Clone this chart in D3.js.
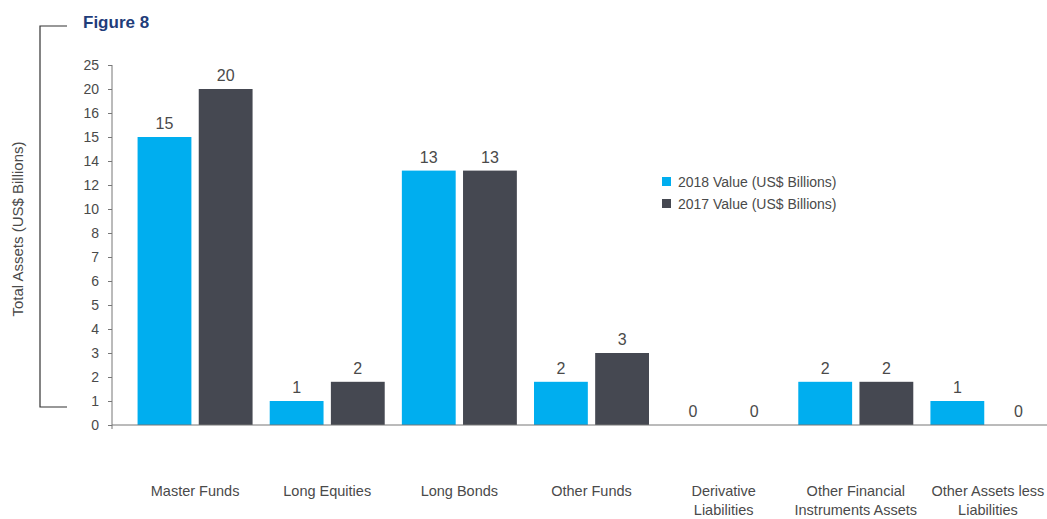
<!DOCTYPE html>
<html>
<head>
<meta charset="utf-8">
<script src="https://cdn.jsdelivr.net/npm/d3@7"></script>
<style>
  body { margin: 0; background: #fff; }
  svg { display: block; }
  text { font-family: "Liberation Sans Narrow", "Arial Narrow", "Liberation Sans", Arial, sans-serif; fill: #4a4a4a; }
  .title { font-family: "Liberation Sans", Arial, sans-serif; font-weight: bold; fill: #1f3d7a; }
</style>
</head>
<body>
<svg width="1047" height="519"></svg>
<script>
// chart data
var categories = ['Master Funds', 'Long Equities', 'Long Bonds', 'Other Funds',
    'Derivative Liabilities', 'Other Financial Instruments Assets', 'Other Assets less Liabilities'];
var categoryLines = [['Master Funds'], ['Long Equities'], ['Long Bonds'], ['Other Funds'],
    ['Derivative', 'Liabilities'], ['Other Financial', 'Instruments Assets'], ['Other Assets less', 'Liabilities']];
var seriesNames = ['2018 Value (US$ Billions)', '2017 Value (US$ Billions)'];
var values2018 = [15, 1, 13.2, 1.8, 0, 1.8, 1];
var values2017 = [20, 1.8, 13.2, 3, 0, 1.8, 0];
var labels2018 = ['15', '1', '13', '2', '0', '2', '1'];
var labels2017 = ['20', '2', '13', '3', '0', '2', '0'];
// the source axis is not linear: its ticks are evenly spaced
var yTicks = [0, 1, 2, 3, 4, 5, 6, 7, 8, 10, 12, 14, 15, 16, 20, 25];

var colors = ['#00aeef', '#454851'];

var svg = d3.select('svg');

var axisY0 = 425, axisY1 = 65;
var yScale = d3.scaleLinear()
    .domain(yTicks)
    .range(yTicks.map(function (d, i) { return axisY0 - i * (axisY0 - axisY1) / (yTicks.length - 1); }));

var x0 = d3.scaleBand().domain(categories).range([129, 1054]);
var groupW = 115;
var x1 = d3.scaleBand().domain(seriesNames).range([0, groupW]).paddingInner(0.12);

var rows = categories.map(function (c, i) {
    return { cat: c, vals: [values2018[i], values2017[i]], labels: [labels2018[i], labels2017[i]] };
});

// bracket + title
svg.append('path')
    .attr('d', 'M67,26H40V407H67')
    .attr('fill', 'none')
    .attr('stroke', '#333')
    .attr('stroke-width', 1.2);

svg.append('text')
    .attr('class', 'title')
    .attr('x', 83).attr('y', 28)
    .style('font-size', '17px')
    .text('Figure 8');

// y axis title
svg.append('text')
    .attr('transform', 'translate(23, 229) rotate(-90)')
    .attr('text-anchor', 'middle')
    .style('font-size', '15px')
    .text('Total Assets (US$ Billions)');

// y axis
var yAxis = d3.axisLeft(yScale).tickValues(yTicks).tickSize(4).tickPadding(9).tickFormat(d3.format('d'));
var yG = svg.append('g')
    .attr('transform', 'translate(112,0)')
    .call(yAxis);
yG.select('.domain').remove();
yG.selectAll('line').attr('stroke', '#777');
yG.selectAll('text').style('font-size', '14px').attr('fill', '#555')
    .style('font-family', '"Liberation Sans Narrow", "Arial Narrow", "Liberation Sans", sans-serif');
svg.append('line')
    .attr('x1', 112).attr('x2', 112)
    .attr('y1', axisY1).attr('y2', 429)
    .attr('stroke', '#777');

// bars
var groups = svg.selectAll('.grp')
    .data(rows)
    .enter().append('g')
    .attr('class', 'grp')
    .attr('transform', function (d) {
        return 'translate(' + (x0(d.cat) + x0.bandwidth() / 2 - groupW / 2) + ',0)';
    });

groups.selectAll('rect')
    .data(function (d) { return d.vals.map(function (v, j) { return { s: seriesNames[j], v: v, j: j }; }); })
    .enter().append('rect')
    .attr('x', function (d) { return x1(d.s); })
    .attr('width', x1.bandwidth())
    .attr('y', function (d) { return yScale(d.v); })
    .attr('height', function (d) { return axisY0 - yScale(d.v); })
    .attr('fill', function (d) { return colors[d.j]; });

groups.selectAll('.val')
    .data(function (d) { return d.vals.map(function (v, j) { return { s: seriesNames[j], v: v, l: d.labels[j] }; }); })
    .enter().append('text')
    .attr('class', 'val')
    .attr('x', function (d) { return x1(d.s) + x1.bandwidth() / 2; })
    .attr('y', function (d) { return yScale(d.v) - 8; })
    .attr('text-anchor', 'middle')
    .style('font-size', '16px')
    .text(function (d) { return d.l; });

// x axis line
svg.append('line')
    .attr('x1', 112).attr('x2', 1047)
    .attr('y1', axisY0).attr('y2', axisY0)
    .attr('stroke', '#777');

// category labels
var catLabels = svg.selectAll('.cat')
    .data(categories)
    .enter().append('text')
    .attr('class', 'cat')
    .attr('text-anchor', 'middle')
    .style('font-size', '14.5px')
    .attr('x', function (d) { return x0(d) + x0.bandwidth() / 2; })
    .attr('y', 496);
catLabels.selectAll('tspan')
    .data(function (d, i) { return categoryLines[i]; })
    .enter().append('tspan')
    .attr('x', function () { return d3.select(this.parentNode).attr('x'); })
    .attr('dy', function (d, i) { return i === 0 ? 0 : 19; })
    .text(function (d) { return d; });

// legend
var legend = svg.append('g').attr('transform', 'translate(662,177)');
seriesNames.forEach(function (s, i) {
    legend.append('rect')
        .attr('x', 0).attr('y', i * 22)
        .attr('width', 9).attr('height', 9)
        .attr('fill', colors[i]);
    legend.append('text')
        .attr('x', 16).attr('y', i * 22 + 10)
        .style('font-size', '14px')
        .text(s);
});
</script>
</body>
</html>
